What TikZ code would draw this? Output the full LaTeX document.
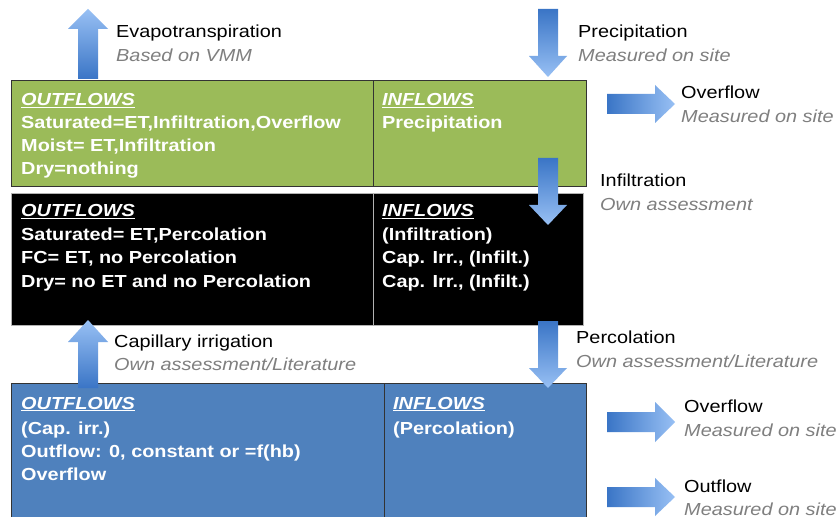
\documentclass[tikz,border=0pt]{standalone}
\usepackage{fontspec}
\setmainfont{Liberation Sans}[FakeStretch=1.14]
\definecolor{boxgreen}{HTML}{9BBB59}
\definecolor{boxblue}{HTML}{4F81BD}
\definecolor{ardark}{HTML}{3A75C6}
\definecolor{arlight}{HTML}{98C0F4}
\definecolor{subgray}{HTML}{7F7F7F}
\newcommand\headul[1]{\sbox0{\itshape #1}\rlap{\rule[-2.2bp]{\wd0}{1.3bp}}\usebox0}
\begin{document}
\begin{tikzpicture}[x=1bp,y=-1bp,
  lbl/.style={anchor=base west,inner sep=0pt,font=\fontsize{17.5}{20}\selectfont},
  sub/.style={lbl,text=subgray,font=\fontsize{17.5}{20}\selectfont\itshape},
  cell/.style={lbl,text=white,font=\fontsize{17.5}{20}\selectfont\bfseries},
  greencell/.style={fill=boxgreen,draw=black!80,line width=0.8bp},
  blackcell/.style={fill=black,draw=black!30,line width=0.8bp},
  bluecell/.style={fill=boxblue,draw=black!80,line width=0.8bp},
]
\clip (0,0) rectangle (839,517);
\fill[white] (0,0) rectangle (839,517);

% boxes
\draw[greencell] (11,80) rectangle (373,186);
\draw[greencell] (373,80) rectangle (586,186);
\draw[blackcell] (11,193) rectangle (373,325);
\draw[blackcell] (373,193) rectangle (583,325);
\draw[bluecell] (11,383) rectangle (384,522);
\draw[bluecell] (384,383) rectangle (586,522);

% block arrows (tail dark, tip light)
% Evapotranspiration (up)
\shade[top color=arlight,bottom color=ardark] (78,79) -- (78,29) -- (68,29) -- (88,9) -- (108,29) -- (98,29) -- (98,79) -- cycle;
% Capillary irrigation (up)
\shade[top color=arlight,bottom color=ardark] (78,388) -- (78,342) -- (68,342) -- (88,320) -- (108,342) -- (98,342) -- (98,388) -- cycle;
% Precipitation (down)
\shade[top color=ardark,bottom color=arlight] (538,9) -- (538,56) -- (529,56) -- (548,77) -- (567,56) -- (558,56) -- (558,9) -- cycle;
% Infiltration (down)
\shade[top color=ardark,bottom color=arlight] (538,158) -- (538,205) -- (529,205) -- (548,225) -- (567,205) -- (558,205) -- (558,158) -- cycle;
% Percolation (down)
\shade[top color=ardark,bottom color=arlight] (538,321) -- (538,368) -- (529,368) -- (548,388) -- (567,368) -- (558,368) -- (558,321) -- cycle;
% Overflow top (right)
\shade[left color=ardark,right color=arlight] (607,94) -- (655,94) -- (655,85) -- (675,104) -- (655,123) -- (655,114) -- (607,114) -- cycle;
% Overflow bottom (right)
\shade[left color=ardark,right color=arlight] (607,412) -- (655,412) -- (655,402) -- (675,422) -- (655,442) -- (655,432) -- (607,432) -- cycle;
% Outflow (right)
\shade[left color=ardark,right color=arlight] (607,487) -- (655,487) -- (655,478) -- (675,497) -- (655,516) -- (655,507) -- (607,507) -- cycle;

% arrow labels
\node[lbl] (evap) at (116,38) {Evapotranspiration};
\node[sub] (evaps) at (116,62) {Based on VMM};
\node[lbl] (prec) at (578,38) {Precipitation};
\node[sub] (precs) at (578,62) {Measured on site};
\node[lbl] (ovf1) at (681,99) {Overflow};
\node[sub] (ovf1s) at (681,123) {Measured on site};
\node[lbl] (infl) at (600,187) {Infiltration};
\node[sub] (infls) at (600,211) {Own assessment};
\node[lbl] (cap) at (114,347) {Capillary irrigation};
\node[sub] (caps) at (114,370) {Own assessment/Literature};
\node[lbl] (perc) at (576,343) {Percolation};
\node[sub] (percs) at (576,367) {Own assessment/Literature};
\node[lbl] (ovf2) at (684,412) {Overflow};
\node[sub] (ovf2s) at (684,436) {Measured on site};
\node[lbl] (outf) at (684,492) {Outflow};
\node[sub] (outfs) at (684,515) {Measured on site};

% green cells
\node[cell] (g1) at (21,106) {\headul{OUTFLOWS}};
\node[cell] (g2) at (21,129) {Saturated=ET,Infiltration,Overflow};
\node[cell] (g3) at (21,152) {Moist= ET,Infiltration};
\node[cell] (g4) at (21,175) {Dry=nothing};
\node[cell] (g5) at (382,106) {\headul{INFLOWS}};
\node[cell] (g6) at (382,129) {Precipitation};

% black cells
\node[cell] (k1) at (21,217) {\headul{OUTFLOWS}};
\node[cell] (k2) at (21,241) {Saturated= ET,Percolation};
\node[cell] (k3) at (21,264) {FC= ET, no Percolation};
\node[cell] (k4) at (21,288) {Dry= no ET and no Percolation};
\node[cell] (k5) at (382,217) {\headul{INFLOWS}};
\node[cell] (k6) at (382,241) {(Infiltration)};
\node[cell] (k7) at (382,264) {Cap. Irr., (Infilt.)};
\node[cell] (k8) at (382,288) {Cap. Irr., (Infilt.)};

% blue cells
\node[cell] (b1) at (21,409) {\headul{OUTFLOWS}};
\node[cell] (b2) at (21,434) {(Cap. irr.)};
\node[cell] (b3) at (21,457) {Outflow: 0, constant or =f(hb)};
\node[cell] (b4) at (21,480) {Overflow};
\node[cell] (b5) at (393,409) {\headul{INFLOWS}};
\node[cell] (b6) at (393,434) {(Percolation)};
\end{tikzpicture}
\end{document}
